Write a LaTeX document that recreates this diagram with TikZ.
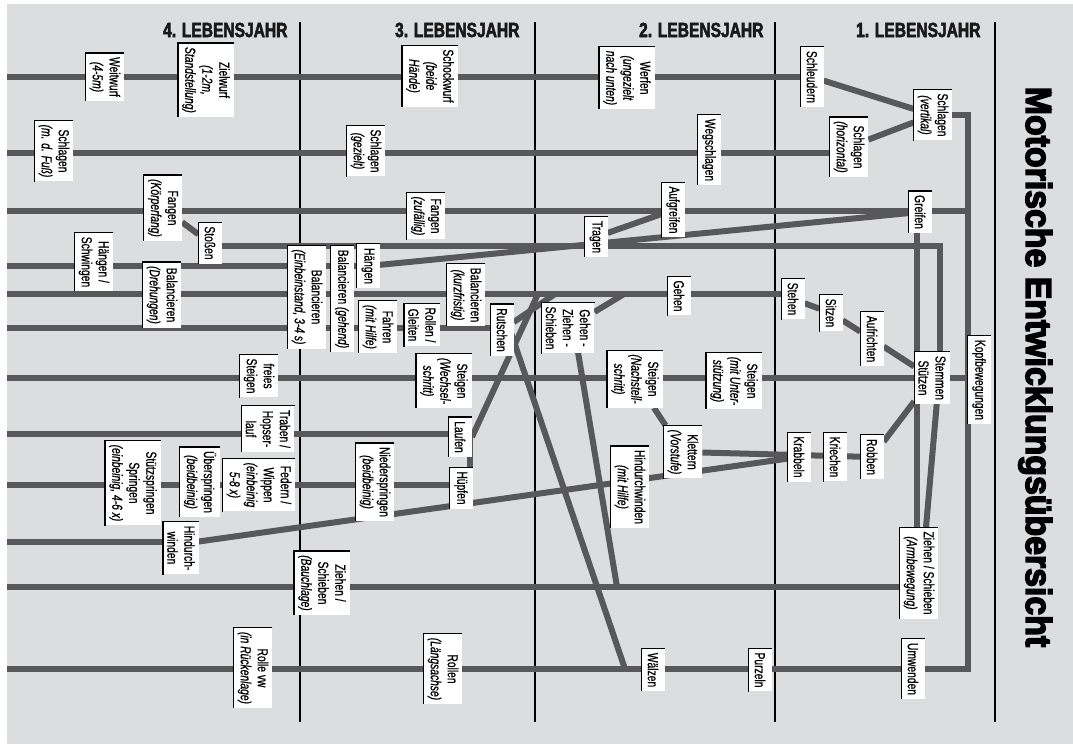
\documentclass[tikz,border=0pt]{standalone}
\usepackage{fontspec}
\usetikzlibrary{backgrounds}
\newfontfamily\lblfont[FakeStretch=0.71,FakeBold=0.7]{Liberation Sans}
\newfontfamily\headfont[FakeStretch=0.76,FakeBold=2.5]{Liberation Sans}
\newfontfamily\titlefont[FakeStretch=0.94,FakeBold=4]{Liberation Sans}
\definecolor{bggray}{HTML}{DCDDDF}
\definecolor{wiregray}{HTML}{58585A}

\begin{document}
\begin{tikzpicture}[x=1pt, y=-1pt,
  box/.style={fill=white, rotate=-90, align=center, inner xsep=4pt, inner ysep=4pt, minimum height=23pt, font=\lblfont\fontsize{14.5}{17}\selectfont},
  wire/.style={draw=wiregray, line width=6pt},
  year/.style={anchor=east, text=black!90, font=\headfont\bfseries\fontsize{20.5}{21}\selectfont},
  rim/.style={draw=black, line width=1.3pt}]
\useasboundingbox (0,0) rectangle (1073,744);

\node[year] (hd4) at (291,30) {4. LEBENSJAHR};
\node[year] (hd3) at (523,30) {3. LEBENSJAHR};
\node[year] (hd2) at (767,30) {2. LEBENSJAHR};
\node[year] (hd1) at (984,30) {1. LEBENSJAHR};
\node[rotate=-90, anchor=base, font=\titlefont\bfseries\fontsize{36}{36}\selectfont] (title) at (1026,367) {Motorische Entwicklungsübersicht};

\node[box] (weitwurf) at (105,77) {Weitwurf\\\textit{(4-5m)}};
\node[box] (zielwurf) at (206,80) {Zielwurf\\\textit{(1-2m,}\\\textit{Standstellung)}};
\node[box] (schockwurf) at (430,76) {Schockwurf\\\textit{(beide}\\\textit{Hände)}};
\node[box] (werfen) at (627,78) {Werfen\\\textit{(ungezielt}\\\textit{nach unten)}};
\node[box] (schleudern) at (812,77) {Schleudern};
\node[box] (schlagenvert) at (933,115) {Schlagen\\\textit{(vertikal)}};

\node[box] (schlagenfuss) at (54,151) {Schlagen\\\textit{(m. d. Fuß)}};
\node[box] (schlagenziel) at (366,151) {Schlagen\\\textit{(gezielt)}};
\node[box] (wegschlagen) at (709,150) {Wegschlagen};
\node[box] (schlagenhor) at (849,147) {Schlagen\\\textit{(horizontal)}};

\node[box] (fangenkoerper) at (163,208) {Fangen\\\textit{(Körperfang)}};
\node[box] (stossen) at (210,243) {Stoßen};
\node[box] (fangenzufall) at (426,216) {Fangen\\\textit{(zufällig)}};
\node[box] (tragen) at (596,237) {Tragen};
\node[box] (aufgreifen) at (673,210) {Aufgreifen};
\node[box] (greifen) at (920,212) {Greifen};

\node[box] (haengenschw) at (94,262) {Hängen /\\Schwingen};
\node[box] (balancdreh) at (162,295) {Balancieren\\\textit{(Drehungen)}};
\node[box] (balancein) at (307,297) {Balancieren\\\textit{(Einbeinstand, 3-4 s)}};
\node[box] (balancgeh) at (342,299) {Balancieren \textit{(gehend)}};
\node[box] (haengen) at (368,266) {Hängen};
\node[box] (balanckurz) at (466,295) {Balancieren\\\textit{(kurzfristig)}};
\node[box] (fahren) at (378,327) {Fahren\\\textit{(mit Hilfe)}};
\node[box] (rollengleiten) at (422,325) {Rollen /\\Gleiten};
\node[box] (rutschen) at (502,330) {Rutschen};
\node[box] (gehzieh) at (568,328) {Gehen -\\Ziehen -\\Schieben};
\node[box] (gehen) at (679,296) {Gehen};
\node[box] (stehen) at (793,299) {Stehen};
\node[box] (sitzen) at (831,313) {Sitzen};
\node[box] (aufrichten) at (872,339) {Aufrichten};

\node[box] (freiessteigen) at (259,376) {freies\\Steigen};
\node[box] (steigenwechsel) at (444,381) {Steigen\\\textit{(Wechsel-}\\\textit{schritt)}};
\node[box] (steigennach) at (635,379) {Steigen\\\textit{(Nachstell-}\\\textit{schritt)}};
\node[box] (steigenunter) at (734,381) {Steigen\\\textit{(mit Unter-}\\\textit{stützung)}};
\node[box] (stemmen) at (932,378) {Stemmen\\Stützen};
\node[box] (kopf) at (979,380) {Kopfbewegungen};

\node[box] (traben) at (268,429) {Traben /\\Hopser-\\lauf};
\node[box] (laufen) at (460,437) {Laufen};
\node[box] (klettern) at (683,452) {Klettern\\\textit{(Vorstufe)}};
\node[box] (krabbeln) at (799,457) {Krabbeln};
\node[box] (kriechen) at (835,457) {Kriechen};
\node[box] (robben) at (872,457) {Robben};

\node[box] (stuetzspr) at (133,483) {Stützspringen\\Springen\\\textit{(einbeinig, 4-6 x)}};
\node[box] (ueberspr) at (200,482) {Überspringen\\\textit{(beidbeinig)}};
\node[box] (federn) at (259,485) {Federn /\\Wippen\\\textit{(einbeinig}\\\textit{5-8 x)}};
\node[box] (niederspr) at (375,482) {Niederspringen\\\textit{(beidbeinig)}};
\node[box] (huepfen) at (461,488) {Hüpfen};
\node[box] (hindurchhilfe) at (630,487) {Hindurchwinden\\\textit{(mit Hilfe)}};

\node[box] (hindurch) at (181,548) {Hindurch-\\winden};
\node[box] (ziehenbauch) at (322,583) {Ziehen /\\Schieben\\\textit{(Bauchlage)}};
\node[box] (ziehenarm) at (919,573) {Ziehen / Schieben\\\textit{(Armbewegung)}};

\node[box] (rolle) at (253,668) {Rolle vw\\\textit{(in Rückenlage)}};
\node[box] (rollen) at (443,669) {Rollen\\\textit{(Längsachse)}};
\node[box] (waelzen) at (653,670) {Wälzen};
\node[box] (purzeln) at (760,670) {Purzeln};
\node[box] (umwenden) at (913,669) {Umwenden};

\begin{scope}[on background layer]
\fill[bggray] (7,4) rectangle (1073,744);
\foreach \x in {300,535,775,995} \draw[line width=1.4pt] (\x,22) -- (\x,722);

\coordinate (r77) at (7,77);
\coordinate (r153) at (7,153);
\coordinate (r211) at (7,211);
\coordinate (r266) at (7,266);
\coordinate (r294) at (7,294);
\coordinate (r328) at (7,328);
\coordinate (r378) at (7,378);
\coordinate (r434) at (7,434);
\coordinate (r485) at (7,485);
\coordinate (r542) at (7,542);
\coordinate (r587) at (7,587);
\coordinate (r669) at (7,669);
\coordinate (ktop) at (968,115);
\coordinate (kbot) at (968,669);
\coordinate (j1) at (538,294);
\coordinate (j2) at (555,294);
\coordinate (j3) at (624,294);
\coordinate (j4) at (617,587);
\coordinate (j5) at (625,669);

\draw[wire] (r77) -- (r77 -| schleudern);
\draw[wire] (r153) -- (r153 -| schlagenhor);
\draw[wire] (r211) -- (r211 -| ktop);
\draw[wire] (r266) -- (r266 -| haengen);
\draw[wire] (r294) -- (r294 -| stehen);
\draw[wire] (r328) -- (r328 -| rutschen);
\draw[wire] (r378) -- (r378 -| kopf);
\draw[wire] (r434) -- (r434 -| laufen);
\draw[wire] (r485) -- (r485 -| huepfen);
\draw[wire] (r542) -- (r542 -| hindurch);
\draw[wire] (r587) -- (r587 -| ziehenarm);
\draw[wire] (r669) -- (kbot) -- (ktop) -- (schlagenvert);

\draw[wire] (schleudern) -- (schlagenvert);
\draw[wire] (schlagenhor) -- (schlagenvert);
\draw[wire] (fangenkoerper) -- (stossen);
\draw[wire] ([yshift=-3pt]stossen.center) -| ([xshift=8pt]stemmen.center);
\draw[wire] (haengen) -- (greifen);
\draw[wire] (tragen) -- (aufgreifen);
\draw[wire] ([xshift=-3pt]greifen.center) -- ([xshift=-3pt]greifen.center |- ziehenarm.center);
\draw[wire] ([xshift=7pt]stemmen.center) -- ([xshift=3pt]ziehenarm.center);
\draw[wire] (stehen) -- (sitzen);
\draw[wire] (sitzen) -- (aufrichten);
\draw[wire] (aufrichten) -- (stemmen);
\draw[wire] (robben) -- (stemmen);
\draw[wire] (klettern) -- (robben);
\draw[wire] (steigennach) -- (klettern);
\draw[wire] ([yshift=4pt]hindurch.center) -- (krabbeln);
\draw[wire] ([xshift=12pt]laufen.center) -- (j1);
\draw[wire] ([xshift=10pt]laufen.center) -- ([xshift=10pt]laufen.center |- huepfen.center);
\draw[wire] (rutschen) -- (j2);
\draw[wire] ([xshift=8pt]rutschen.center) -- (j5);
\draw[wire] (gehzieh) -- (j3);
\draw[wire] ([xshift=6pt]gehzieh.center) -- (j4);
\end{scope}

\foreach \n in {weitwurf, zielwurf, schockwurf, werfen, schleudern, schlagenvert,
  schlagenfuss, schlagenziel, wegschlagen, schlagenhor, fangenkoerper, stossen,
  fangenzufall, tragen, aufgreifen, greifen, haengenschw, balancdreh, balancein,
  balancgeh, haengen, balanckurz, fahren, rollengleiten, rutschen, gehzieh, gehen,
  stehen, sitzen, aufrichten, freiessteigen, steigenwechsel, steigennach,
  steigenunter, stemmen, kopf, traben, laufen, klettern, krabbeln, kriechen, robben,
  stuetzspr, ueberspr, federn, niederspr, huepfen, hindurchhilfe, hindurch,
  ziehenbauch, ziehenarm, rolle, rollen, waelzen, purzeln, umwenden}
  \draw[rim] (\n.north west) -- (\n.south west) -- (\n.south east);
\end{tikzpicture}
\end{document}
